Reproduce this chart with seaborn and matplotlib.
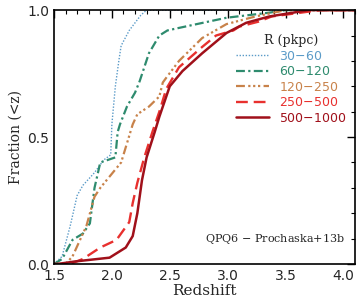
import numpy as np
import pandas as pd
import matplotlib
matplotlib.use("Agg")
import matplotlib.pyplot as plt
import seaborn as sns
from matplotlib.ticker import MultipleLocator, FormatStrFormatter

# CDF curves (redshift, fraction)
z_30_60 = [1.50, 1.57, 1.64, 1.70, 1.75, 1.85, 1.93, 1.99, 2.00, 2.03, 2.06, 2.08, 2.15, 2.25, 2.30, 4.10]
f_30_60 = [0.00, 0.03, 0.15, 0.27, 0.31, 0.36, 0.41, 0.43, 0.55, 0.70, 0.80, 0.86, 0.92, 0.98, 1.00, 1.00]

z_60_120 = [1.50, 1.57, 1.66, 1.75, 1.81, 1.85, 1.90, 2.03, 2.05, 2.07, 2.13, 2.20, 2.24, 2.32, 2.41, 2.48, 2.58, 2.99, 3.36, 3.50, 4.10]
f_60_120 = [0.00, 0.02, 0.095, 0.12, 0.16, 0.30, 0.40, 0.42, 0.52, 0.55, 0.62, 0.675, 0.72, 0.83, 0.90, 0.92, 0.93, 0.97, 0.99, 1.00, 1.00]

z_120_250 = [1.50, 1.60, 1.66, 1.78, 1.85, 1.90, 2.08, 2.18, 2.22, 2.32, 2.41, 2.44, 2.48, 2.58, 2.78, 2.99, 3.24, 3.50, 4.10]
f_120_250 = [0.00, 0.00, 0.03, 0.15, 0.265, 0.30, 0.40, 0.55, 0.59, 0.62, 0.66, 0.715, 0.74, 0.80, 0.89, 0.945, 0.975, 1.00, 1.00]

z_250_500 = [1.50, 1.64, 1.75, 1.90, 2.04, 2.15, 2.18, 2.22, 2.28, 2.35, 2.41, 2.47, 2.58, 2.78, 2.90, 3.05, 3.10, 3.27, 3.38, 3.80, 4.10]
f_250_500 = [0.00, 0.00, 0.02, 0.065, 0.095, 0.165, 0.24, 0.32, 0.42, 0.52, 0.60, 0.69, 0.775, 0.855, 0.90, 0.92, 0.935, 0.955, 0.975, 1.00, 1.00]

z_500_1000 = [1.50, 1.53, 1.68, 1.98, 2.12, 2.18, 2.22, 2.26, 2.30, 2.37, 2.41, 2.50, 2.61, 2.78, 2.99, 3.16, 3.36, 3.70, 4.10]
f_500_1000 = [0.00, 0.00, 0.01, 0.025, 0.065, 0.11, 0.20, 0.33, 0.42, 0.52, 0.58, 0.70, 0.76, 0.83, 0.91, 0.95, 0.975, 1.00, 1.00]

labels = ["30$-$60", "60$-$120", "120$-$250", "250$-$500", "500$-$1000"]
colors = ["#5b9bc8", "#2e8b6e", "#c8824a", "#e8302e", "#a0101a"]
styles = [(0, (1, 1.2)), (0, (4, 1.5, 1, 1.5)), (0, (4, 1.5, 1, 1.2, 1, 1.2, 1, 1.5)), (0, (5, 2.5)), "-"]
widths = [1.0, 1.6, 1.6, 1.7, 1.8]

sns.set_style("white")
plt.rcParams["font.family"] = ["DejaVu Sans"]

fig = plt.figure(figsize=(3.6, 3.07), dpi=100)
ax = fig.add_axes([0.15, 0.14, 0.836, 0.827])

series = [(z_30_60, f_30_60), (z_60_120, f_60_120), (z_120_250, f_120_250),
          (z_250_500, f_250_500), (z_500_1000, f_500_1000)]
for (z, f), lab, c, ls, lw in zip(series, labels, colors, styles, widths):
    df = pd.DataFrame({"z": z, "f": f})
    sns.lineplot(data=df, x="z", y="f", ax=ax, color=c, linestyle=ls, lw=lw,
                 label=lab, estimator=None, sort=False)

ax.set_xlim(1.5, 4.1)
ax.set_ylim(0, 1.0)
ax.xaxis.set_major_locator(MultipleLocator(0.5))
ax.xaxis.set_minor_locator(MultipleLocator(0.1))
ax.yaxis.set_major_locator(MultipleLocator(0.5))
ax.yaxis.set_minor_locator(MultipleLocator(0.1))
ax.xaxis.set_major_formatter(FormatStrFormatter("%.1f"))
ax.yaxis.set_major_formatter(FormatStrFormatter("%.1f"))
ax.tick_params(which="both", direction="in", top=True, right=True, labelsize=10, color="black")
ax.tick_params(which="major", length=6, width=1)
ax.tick_params(which="minor", length=3, width=0.8)
for s in ax.spines.values():
    s.set_color("black")
    s.set_linewidth(1.2)

ax.set_xlabel("Redshift", family="DejaVu Serif", fontsize=11, labelpad=1)
ax.set_ylabel("Fraction (<z)", family="DejaVu Serif", fontsize=10, labelpad=3)

leg = ax.legend(title="R (pkpc)", loc="upper right", bbox_to_anchor=(1.0, 0.94), frameon=False,
                fontsize=9, title_fontsize=9, handlelength=2.6, handletextpad=0.8,
                labelspacing=0.2, borderaxespad=0.3)
for txt, c in zip(leg.get_texts(), colors):
    txt.set_color(c)
leg.get_title().set_family("DejaVu Serif")

ax.text(0.965, 0.07, "QPQ6 $-$ Prochaska+13b", transform=ax.transAxes, ha="right", va="bottom",
        fontsize=8, family="DejaVu Serif")

fig.savefig("out.png", dpi=100)
